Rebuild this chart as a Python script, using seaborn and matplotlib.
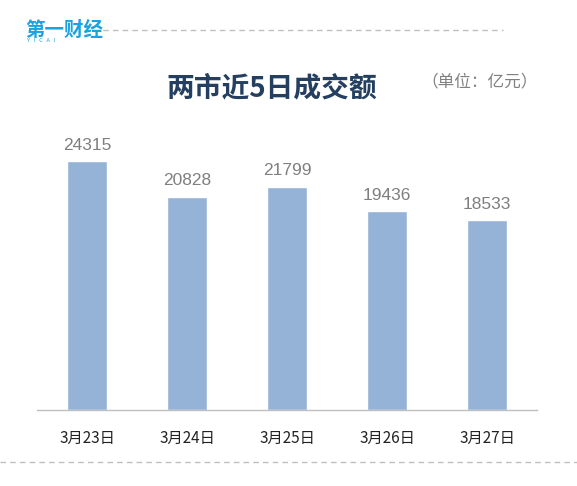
import matplotlib
matplotlib.use("Agg")
import matplotlib.pyplot as plt
import seaborn as sns
import pandas as pd

# data
dates = ["3月23日", "3月24日", "3月25日", "3月26日", "3月27日"]
turnover = [24315, 20828, 21799, 19436, 18533]

sns.set_theme(style="white")
plt.rcParams['font.family'] = ['Noto Sans CJK SC', 'DejaVu Sans']

df = pd.DataFrame({"date": dates, "turnover": turnover})

W, H = 577, 486
fig = plt.figure(figsize=(W / 100, H / 100), dpi=100)
ax = fig.add_axes([37 / W, (H - 410) / H, 500 / W, 300 / H])

sns.barplot(data=df, x="date", y="turnover", color="#95B3D7", width=0.4,
            saturation=1, ax=ax)
ax.set_xlim(-0.5, 4.5)
ax.set_ylim(0, 29300)

for i, v in enumerate(turnover):
    ax.annotate(str(v), (i, v), xytext=(0, 6), textcoords="offset points",
                ha="center", va="bottom", fontsize=12.5, color="#7F7F7F",
                family=["Liberation Sans", "DejaVu Sans"])

for s in ["top", "right", "left"]:
    ax.spines[s].set_visible(False)
ax.spines["bottom"].set_color("#BFBFBF")
ax.spines["bottom"].set_linewidth(1)
ax.set_yticks([])
ax.set_xlabel("")
ax.set_ylabel("")
ax.tick_params(axis="x", length=0, pad=14, labelsize=11, labelcolor="#222222")

# title and unit
fig.text(272 / W, 1 - 88 / H, "两市近5日成交额", ha="center", va="center",
         fontsize=20, fontweight="bold", color="#243F60")
fig.text(480 / W, 1 - 82 / H, "（单位：亿元）", ha="center", va="center",
         fontsize=12, color="#808080")

# logo
fig.text(25 / W, 1 - 30 / H, "第一财经", ha="left", va="center",
         fontsize=14, fontweight="bold", color="#1AA3E0")
fig.text(27 / W, 1 - 41 / H, "Y   I   C   A   I", ha="left", va="center",
         fontsize=4, color="#1AA3E0")

# dashed separators
fig.add_artist(plt.Line2D([93 / W, 503 / W], [1 - 30 / H, 1 - 30 / H],
                          transform=fig.transFigure, color="#BFBFBF",
                          lw=1, ls=(0, (4, 3))))
fig.add_artist(plt.Line2D([0, 1], [1 - 462 / H, 1 - 462 / H],
                          transform=fig.transFigure, color="#BFBFBF",
                          lw=1, ls=(0, (4, 3))))

fig.savefig("out.png", dpi=100)
